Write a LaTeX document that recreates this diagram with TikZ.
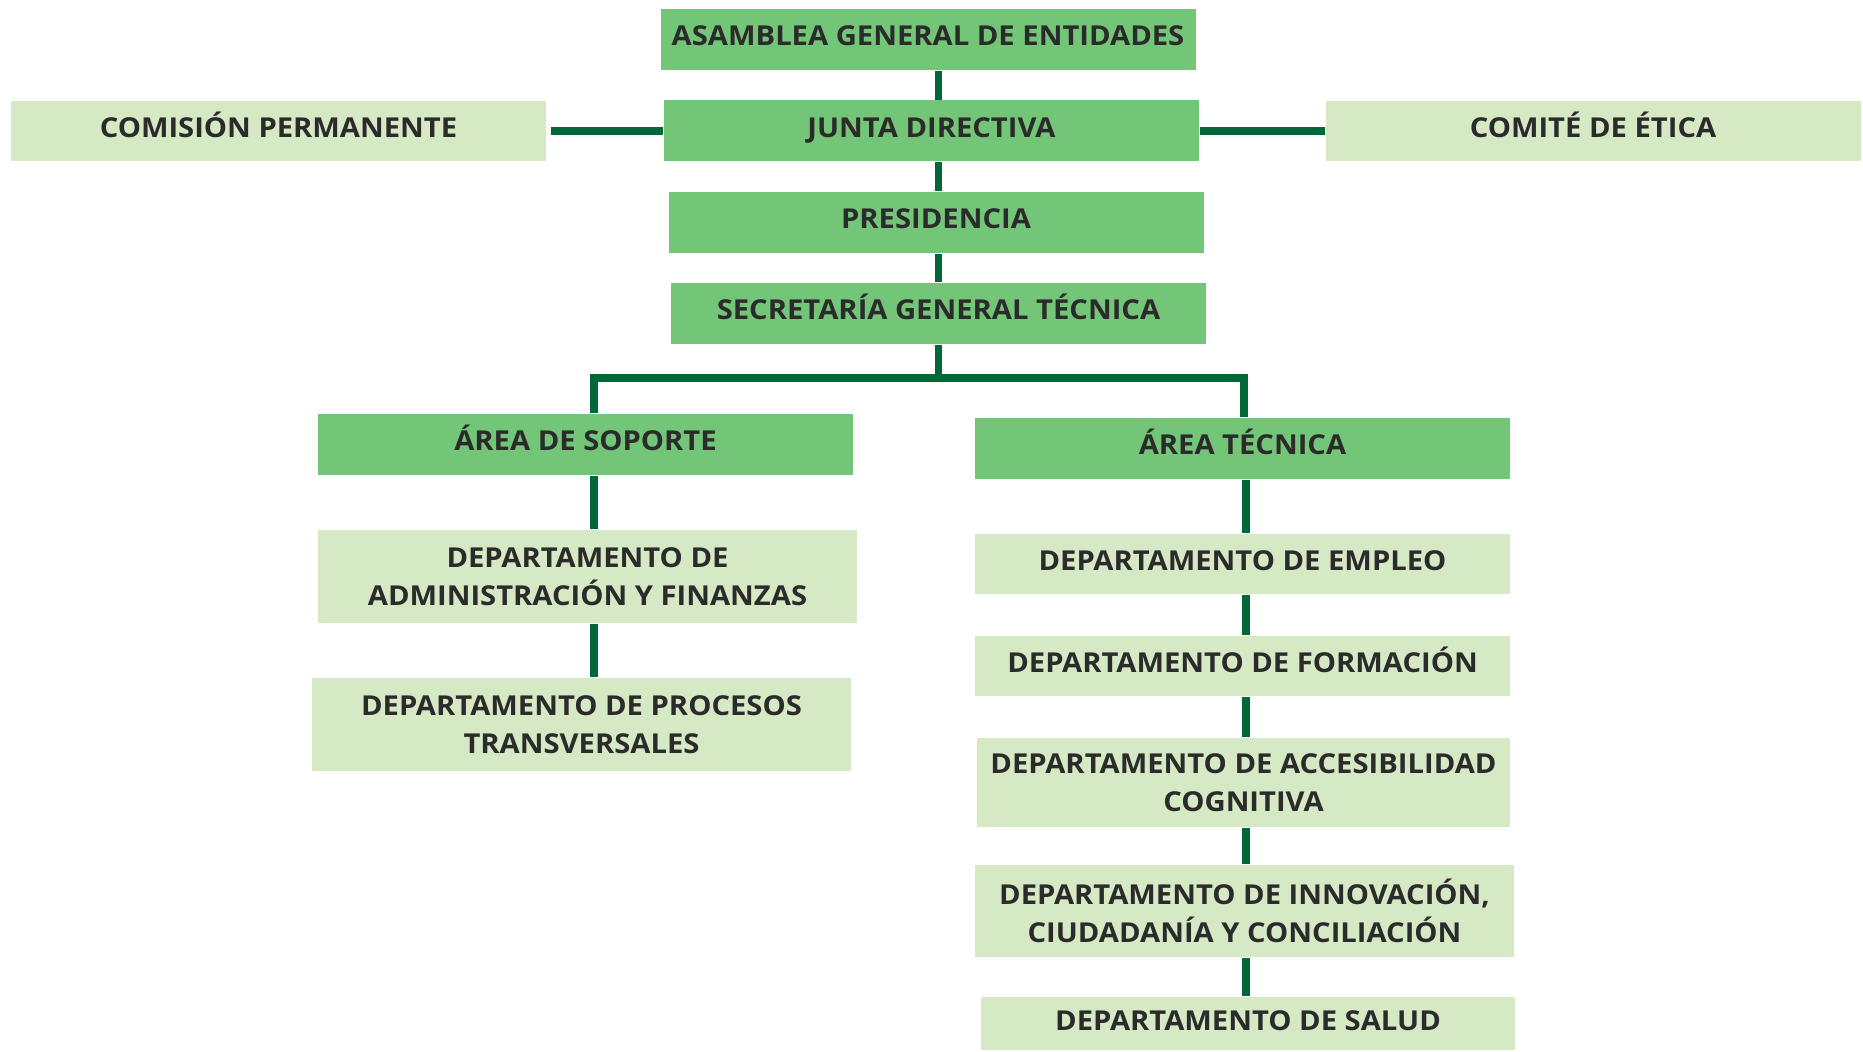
\documentclass[tikz,border=0pt]{standalone}
\usepackage{fontspec}
\setmainfont{Open Sans}[BoldFeatures={FakeStretch=1.065}]
\usetikzlibrary{positioning}

\definecolor{boxgreen}{HTML}{73C677}
\definecolor{palegreen}{HTML}{D5E9C5}
\definecolor{linegreen}{HTML}{006837}
\definecolor{labelgray}{HTML}{2B2B2B}

\begin{document}
\begin{tikzpicture}
[
boxtext/.style={rectangle, inner sep=0pt, text=labelgray, font=\bfseries\fontsize{7.8}{10.8}\selectfont},
mainbox/.style={boxtext, fill=boxgreen, minimum width=5.35cm, minimum height=0.61cm},
deptbox/.style={boxtext, fill=palegreen, minimum width=5.35cm, minimum height=0.6cm},
oneline/.style={text height=0.2cm, text depth=0.07cm},
twoline/.style={align=center},
link/.style={draw=linegreen, line width=0.075cm},
]
\useasboundingbox (0,0) rectangle (18.63,-10.52);
%draw the top level
\node[mainbox, oneline] (asamblea) at (9.28,-0.395) {ASAMBLEA GENERAL DE ENTIDADES};
\node[mainbox, oneline] (junta) at (9.315,-1.31) {JUNTA DIRECTIVA};
\node[deptbox, oneline] (comision) at (2.785,-1.31) {COMISIÓN PERMANENTE};
\node[deptbox, oneline] (comite) at (15.93,-1.31) {COMITÉ DE ÉTICA};
\node[mainbox, oneline] (presidencia) at (9.36,-2.225) {PRESIDENCIA};
\node[mainbox, oneline] (secretaria) at (9.385,-3.135) {SECRETARÍA GENERAL TÉCNICA};
%draw the support area
\node[mainbox, oneline] (soporte) at (5.855,-4.445) {ÁREA DE SOPORTE};
\node[deptbox, twoline, minimum width=5.39cm, minimum height=0.93cm] (admin) at (5.875,-5.765) {DEPARTAMENTO DE\\ADMINISTRACIÓN Y FINANZAS};
\node[deptbox, twoline, minimum width=5.39cm, minimum height=0.93cm] (procesos) at (5.815,-7.245) {DEPARTAMENTO DE PROCESOS\\TRANSVERSALES};
%draw the technical area
\node[mainbox, oneline] (tecnica) at (12.425,-4.485) {ÁREA TÉCNICA};
\node[deptbox, oneline] (empleo) at (12.425,-5.64) {DEPARTAMENTO DE EMPLEO};
\node[deptbox, oneline] (formacion) at (12.425,-6.66) {DEPARTAMENTO DE FORMACIÓN};
\node[deptbox, twoline, minimum width=5.33cm, minimum height=0.89cm] (accesibilidad) at (12.435,-7.825) {DEPARTAMENTO DE ACCESIBILIDAD\\COGNITIVA};
\node[deptbox, twoline, minimum width=5.39cm, minimum height=0.92cm] (innovacion) at (12.445,-9.11) {DEPARTAMENTO DE INNOVACIÓN,\\CIUDADANÍA Y CONCILIACIÓN};
\node[deptbox, oneline, minimum width=5.34cm, minimum height=0.53cm] (salud) at (12.48,-10.235) {DEPARTAMENTO DE SALUD};

%draw the connectors
\coordinate (trunk) at (9.385,0);
\coordinate (leftdrop) at (5.94,-3.78);
\coordinate (rightdrop) at (12.44,-3.78);
\coordinate (leftcol) at (5.94,0);
\coordinate (rightcol) at (12.46,0);
\draw[link] (asamblea.south -| trunk) -- (junta.north -| trunk);
\draw[link] (junta.south -| trunk) -- (presidencia.north -| trunk);
\draw[link] (presidencia.south -| trunk) -- (secretaria.north -| trunk);
\draw[link] (secretaria.south -| trunk) -- (trunk |- leftdrop);
\draw[link] (comision.east) ++(0.04,0) -- (junta.west);
\draw[link] (junta.east) -- (comite.west);
\draw[link] (soporte.north -| leftdrop) -- (leftdrop) -- (rightdrop) -- (tecnica.north -| rightdrop);
\draw[link] (soporte.south -| leftcol) -- (admin.north -| leftcol);
\draw[link] (admin.south -| leftcol) -- (procesos.north -| leftcol);
\foreach \a/\b in {tecnica/empleo, empleo/formacion, formacion/accesibilidad, accesibilidad/innovacion, innovacion/salud}
  \draw[link] (\a.south -| rightcol) -- (\b.north -| rightcol);
\end{tikzpicture}
\end{document}
